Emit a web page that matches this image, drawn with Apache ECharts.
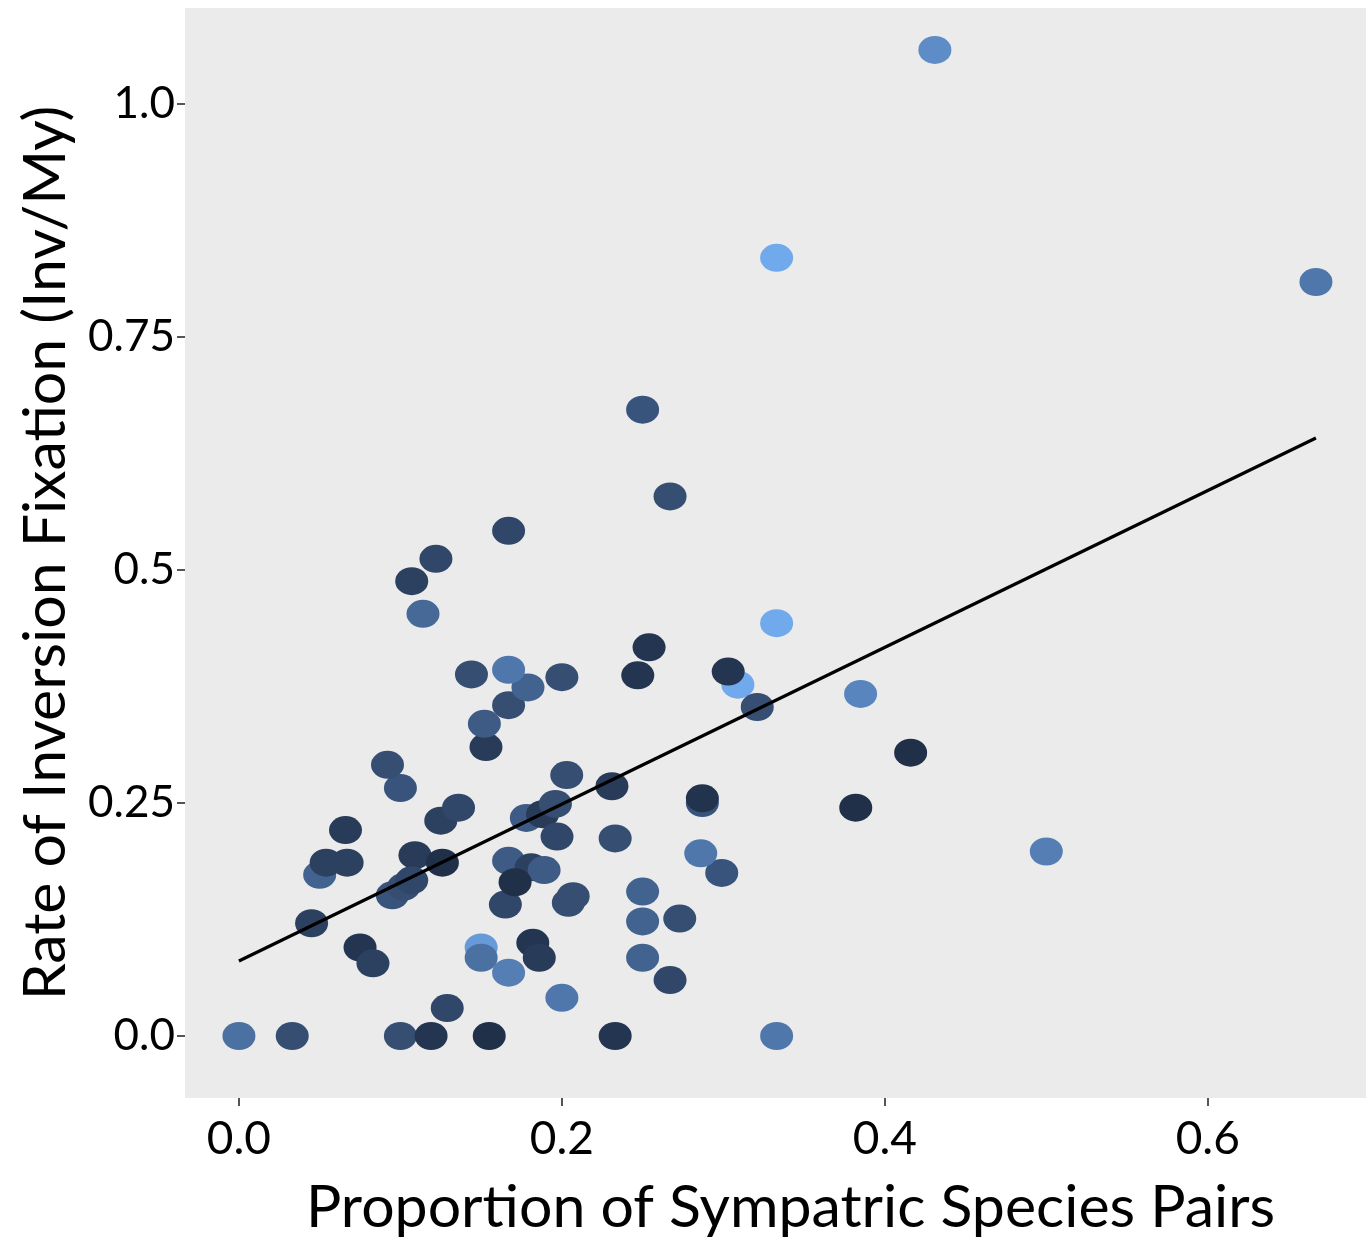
<!DOCTYPE html>
<html>
<head>
<meta charset="utf-8">
<script src="https://cdn.jsdelivr.net/npm/echarts@6/dist/echarts.min.js"></script>
<style>
  html, body { margin: 0; padding: 0; background: #fff; }
  #chart { width: 1366px; height: 1246px; }
</style>
</head>
<body>
<div id="chart"></div>
<script>
// proportion of sympatric species pairs
var sympX = [0, 0.033, 0.1, 0.119, 0.155, 0.233, 0.333, 0.129, 0.2, 0.167,
  0.267, 0.150, 0.150, 0.182, 0.186, 0.250, 0.075, 0.083, 0.045, 0.165,
  0.204, 0.207, 0.250, 0.250, 0.273, 0.167, 0.181, 0.189, 0.171, 0.299,
  0.286, 0.050, 0.054, 0.067, 0.109, 0.126, 0.095, 0.102, 0.107, 0.066,
  0.100, 0.092, 0.125, 0.136, 0.178, 0.188, 0.196, 0.197, 0.233, 0.231,
  0.203, 0.287, 0.287, 0.153, 0.152, 0.167, 0.179, 0.167, 0.144, 0.200,
  0.247, 0.254, 0.309, 0.303, 0.321, 0.333, 0.385, 0.416, 0.382, 0.500,
  0.114, 0.107, 0.122, 0.167, 0.267, 0.250, 0.333, 0.667, 0.431];
// rate of inversion fixation (Inv/My)
var rateY = [0, 0, 0, 0, 0, 0, 0, 0.030, 0.041, 0.068,
  0.060, 0.095, 0.084, 0.100, 0.084, 0.084, 0.095, 0.078, 0.121, 0.141,
  0.143, 0.150, 0.155, 0.123, 0.126, 0.188, 0.181, 0.178, 0.165, 0.175,
  0.196, 0.173, 0.186, 0.186, 0.194, 0.186, 0.151, 0.160, 0.167, 0.221,
  0.266, 0.291, 0.231, 0.245, 0.234, 0.238, 0.249, 0.214, 0.212, 0.268,
  0.280, 0.250, 0.255, 0.310, 0.335, 0.355, 0.374, 0.393, 0.388, 0.385,
  0.387, 0.417, 0.377, 0.391, 0.353, 0.443, 0.367, 0.304, 0.245, 0.198,
  0.453, 0.488, 0.512, 0.542, 0.579, 0.672, 0.835, 0.809, 1.058];
// colour variable (0 = dark navy, 1 = light blue)
var colourVal = [0.55, 0.3, 0.3, 0.1, 0.05, 0.1, 0.6, 0.25, 0.6, 0.65,
  0.25, 0.85, 0.55, 0.1, 0.15, 0.45, 0.1, 0.2, 0.2, 0.25,
  0.3, 0.3, 0.45, 0.45, 0.3, 0.4, 0.2, 0.4, 0.05, 0.35,
  0.6, 0.45, 0.2, 0.2, 0.15, 0.05, 0.35, 0.3, 0.25, 0.15,
  0.35, 0.3, 0.2, 0.25, 0.4, 0.15, 0.3, 0.25, 0.3, 0.15,
  0.3, 0.35, 0.08, 0.15, 0.4, 0.3, 0.45, 0.6, 0.3, 0.3,
  0.1, 0.1, 0.95, 0.1, 0.3, 0.95, 0.7, 0.05, 0.05, 0.65,
  0.5, 0.2, 0.25, 0.25, 0.3, 0.35, 0.95, 0.6, 0.75];

// fitted line end points
var fitX = [0, 0.667];
var fitY = [0.0805, 0.6416];

var xTicks = [0, 0.2, 0.4, 0.6];
var xTickLabels = ['0.0', '0.2', '0.4', '0.6'];
var yTicks = [0, 0.25, 0.5, 0.75, 1.0];
var yTickLabels = ['0.0', '0.25', '0.5', '0.75', '1.0'];

var pts = [];
for (var i = 0; i < sympX.length; i++) {
  pts.push([sympX[i], rateY[i], colourVal[i]]);
}
var fitLine = [[fitX[0], fitY[0]], [fitX[1], fitY[1]]];

var chart = echarts.init(document.getElementById('chart'));
var fontFam = 'Lato, "Open Sans", sans-serif';
chart.setOption({
  backgroundColor: '#ffffff',
  animation: false,
  grid: {
    left: 185, right: 0, top: 8, bottom: 148,
    show: true, backgroundColor: '#EBEBEB', borderWidth: 0
  },
  visualMap: {
    show: false,
    seriesIndex: 0,
    dimension: 2,
    min: 0, max: 1,
    inRange: { color: ['#1c2a42', '#2c405f', '#3d5b85', '#5077ab', '#6293d0', '#75b0f5'] }
  },
  xAxis: {
    type: 'value',
    min: -0.0334, max: 0.698,
    axisLine: { show: false, onZero: false },
    splitLine: { show: false },
    axisTick: { show: true, length: 8, customValues: xTicks, lineStyle: { color: '#555', width: 2 } },
    axisLabel: {
      customValues: xTicks,
      margin: 18,
      color: '#000', fontSize: 46, fontFamily: fontFam,
      formatter: function (v) {
        var k = xTicks.indexOf(Math.round(v * 10) / 10);
        return k >= 0 ? xTickLabels[k] : '';
      }
    },
    name: 'Proportion of Sympatric Species Pairs',
    nameLocation: 'middle',
    nameGap: 80,
    nameTextStyle: { color: '#000', fontSize: 59, fontFamily: fontFam, padding: [0, 0, 0, 30] }
  },
  yAxis: {
    type: 'value',
    min: -0.0665, max: 1.103,
    axisLine: { show: false, onZero: false },
    splitLine: { show: false },
    axisTick: { show: true, length: 8, customValues: yTicks, lineStyle: { color: '#555', width: 2 } },
    axisLabel: {
      customValues: yTicks,
      margin: 10,
      color: '#000', fontSize: 44, fontFamily: fontFam,
      formatter: function (v) {
        var k = yTicks.indexOf(Math.round(v * 100) / 100);
        return k >= 0 ? yTickLabels[k] : '';
      }
    },
    name: 'Rate of Inversion Fixation (Inv/My)',
    nameLocation: 'middle',
    nameGap: 110,
    nameTextStyle: { color: '#000', fontSize: 59, fontFamily: fontFam }
  },
  series: [
    {
      type: 'scatter',
      data: pts,
      symbol: 'circle',
      symbolSize: [33, 28],
      itemStyle: { opacity: 1 }
    },
    {
      type: 'line',
      data: fitLine,
      symbol: 'none',
      lineStyle: { color: '#000', width: 3.2 },
      z: 3
    }
  ]
});
</script>
</body>
</html>
